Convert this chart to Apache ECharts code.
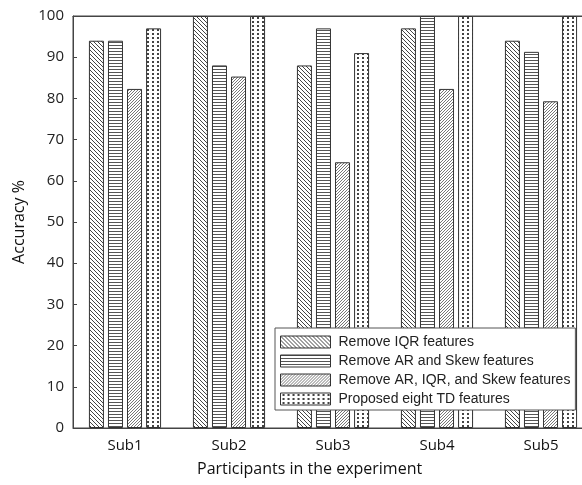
<!DOCTYPE html>
<html>
<head>
<meta charset="utf-8">
<script src="https://cdn.jsdelivr.net/npm/echarts@6/dist/echarts.min.js"></script>
<style>
  html, body { margin: 0; padding: 0; background: #fff; }
  #chart { width: 582px; height: 485px; }
</style>
</head>
<body>
<div id="chart"></div>
<script>
const categories = ['Sub1', 'Sub2', 'Sub3', 'Sub4', 'Sub5']
const seriesNames = [
  'Remove IQR features',
  'Remove AR and Skew features',
  'Remove AR, IQR, and Skew features',
  'Proposed eight TD features'
]
const iqrValues = [94, 100, 88, 97, 94]
const arSkewValues = [94, 88, 97, 100, 91.3]
const allValues = [82.3, 85.3, 64.5, 82.3, 79.3]
const tdValues = [97, 100, 91, 100, 100]

// hatch fills drawn on tiny canvases
function makePattern (type) {
  const c = document.createElement('canvas')
  const ctx = c.getContext('2d')
  if (type === 'back') {
    c.width = 4; c.height = 4
    ctx.fillStyle = '#fff'; ctx.fillRect(0, 0, 4, 4)
    ctx.fillStyle = '#444'
    for (let i = 0; i < 4; i++) ctx.fillRect(i, i, 1, 1)
  } else if (type === 'hor') {
    c.width = 4; c.height = 3
    ctx.fillStyle = '#fff'; ctx.fillRect(0, 0, 4, 3)
    ctx.fillStyle = '#555'; ctx.fillRect(0, 0, 4, 1)
  } else if (type === 'fwd') {
    c.width = 3; c.height = 3
    ctx.fillStyle = '#fff'; ctx.fillRect(0, 0, 3, 3)
    ctx.fillStyle = '#777'
    for (let i = 0; i < 3; i++) ctx.fillRect(2 - i, i, 1, 1)
  } else {
    c.width = 5; c.height = 4
    ctx.fillStyle = '#fff'; ctx.fillRect(0, 0, 5, 4)
    ctx.fillStyle = '#444'; ctx.fillRect(2, 1, 2, 2)
  }
  return { image: c, repeat: 'repeat' }
}

const fills = ['back', 'hor', 'fwd', 'dots'].map(makePattern)
const dataSets = [iqrValues, arSkewValues, allValues, tdValues]

const myChart = echarts.init(document.getElementById('chart'))
const option = {
  animation: false,
  backgroundColor: '#fff',
  grid: {
    left: 73,
    right: -11,
    top: 16,
    bottom: 57,
    outerBoundsMode: 'none',
    show: true,
    borderColor: '#444',
    borderWidth: 1
  },
  legend: {
    orient: 'vertical',
    left: 275,
    top: 328,
    itemWidth: 50,
    itemHeight: 12,
    itemGap: 5,
    padding: [7, 5, 4, 5],
    backgroundColor: '#fff',
    borderColor: '#555',
    borderWidth: 1,
    icon: 'rect',
    itemStyle: { borderColor: '#333', borderWidth: 1 },
    textStyle: {
      fontFamily: 'Liberation Sans',
      fontSize: 14,
      color: '#222',
      padding: [0, 0, 0, 3]
    },
    data: seriesNames
  },
  xAxis: [
    {
      type: 'category',
      data: categories,
      axisLine: { lineStyle: { color: '#444' } },
      axisTick: { inside: true, alignWithLabel: true, length: 4, lineStyle: { color: '#444' } },
      axisLabel: { fontFamily: 'Open Sans', fontSize: 15, color: '#111', margin: 10 }
    },
    {
      type: 'category',
      position: 'top',
      data: categories,
      axisLine: { lineStyle: { color: '#444' } },
      axisTick: { inside: true, alignWithLabel: true, length: 4, lineStyle: { color: '#444' } },
      axisLabel: { show: false }
    }
  ],
  yAxis: {
    type: 'value',
    min: 0,
    max: 100,
    interval: 10,
    name: 'Accuracy %',
    nameLocation: 'middle',
    nameGap: 42,
    nameTextStyle: { fontFamily: 'Open Sans', fontSize: 16, color: '#111' },
    axisLine: { show: true, lineStyle: { color: '#444' } },
    axisTick: { show: true, inside: true, length: 4, lineStyle: { color: '#444' } },
    splitLine: { show: false },
    axisLabel: { fontFamily: 'Open Sans', fontSize: 15, color: '#222', margin: 9 }
  },
  graphic: [
    {
      type: 'text',
      left: 197,
      top: 461,
      style: {
        text: 'Participants in the experiment',
        font: '16px "Open Sans"',
        fill: '#111'
      }
    }
  ],
  series: seriesNames.map((name, i) => ({
    name: name,
    type: 'bar',
    barWidth: 15,
    barGap: '27%',
    data: dataSets[i],
    itemStyle: {
      color: fills[i],
      borderColor: '#333',
      borderWidth: 1
    }
  }))
}
myChart.setOption(option)
</script>
</body>
</html>
